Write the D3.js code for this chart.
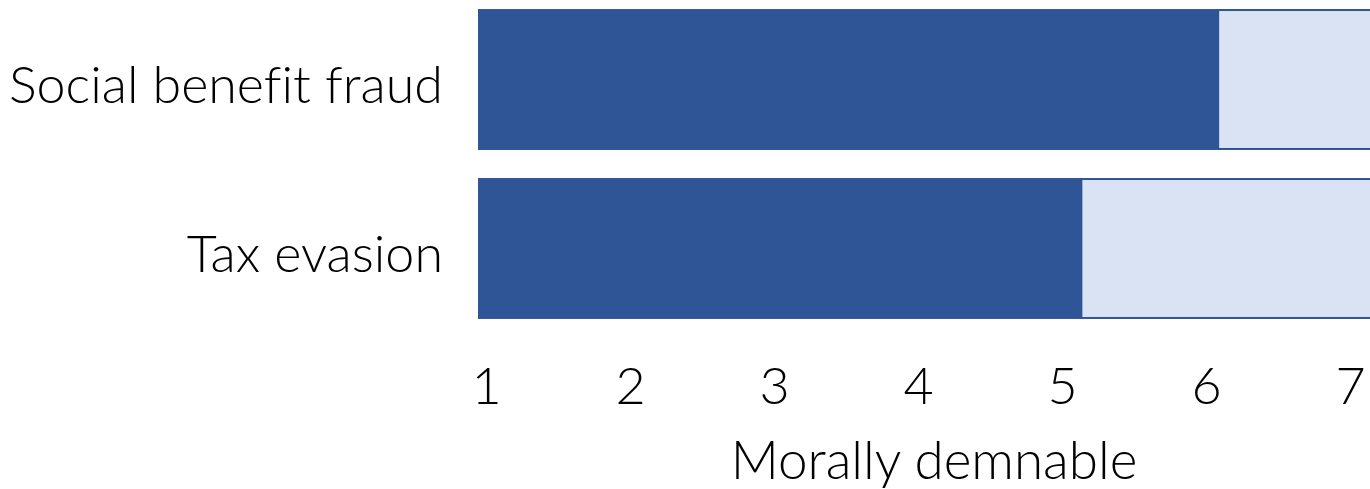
<!DOCTYPE html>
<html><head><meta charset="utf-8">
<script src="https://cdn.jsdelivr.net/npm/d3@7"></script>
<style>
html,body{margin:0;padding:0;background:#fff;overflow:hidden}
text{font-family:Lato,"Open Sans",sans-serif;font-weight:300;fill:#000;font-variant-ligatures:none;font-feature-settings:"liga" 0}
</style></head><body>
<svg id="c" width="1370" height="489"></svg>
<script>
const categories = ["Social benefit fraud", "Tax evasion"];
const values = [6.14, 5.19];
const scaleMax = [7.25, 7.25];
const ticks = [1, 2, 3, 4, 5, 6, 7];
const axisTitle = "Morally demnable";

const svg = d3.select("#c");
const x = d3.scaleLinear().domain([1, 7]).range([478, 1342]);
const y = d3.scaleBand().domain(categories).range([-5, 333]).paddingInner(0.166).paddingOuter(0.083);

const g = svg.append("g");
// background (light) bars
g.selectAll("rect.bg").data(categories).join("rect")
  .attr("class","bg")
  .attr("x", (d,i) => x(values[i]))
  .attr("y", d => y(d) + 1)
  .attr("width", (d,i) => x(scaleMax[i]) - x(values[i]))
  .attr("height", y.bandwidth() - 2)
  .attr("fill", "#DAE3F3")
  .attr("stroke", "#2F5597")
  .attr("stroke-width", 2);
// value bars
g.selectAll("rect.val").data(categories).join("rect")
  .attr("class","val")
  .attr("x", x(1))
  .attr("y", d => y(d))
  .attr("width", (d,i) => x(values[i]) - x(1))
  .attr("height", y.bandwidth())
  .attr("fill", "#2F5597");

// category labels
g.selectAll("text.cat").data(categories).join("text")
  .attr("class","cat")
  .attr("x", 443)
  .attr("y", d => y(d) + y.bandwidth()/2 + 23)
  .attr("text-anchor","end")
  .style("font-size","52px")
  .text(d => d);

// x axis tick labels
const axis = d3.axisBottom(x).tickValues(ticks).tickSize(0).tickPadding(0).tickFormat(d3.format("d"));
const ax = svg.append("g").attr("transform","translate(8,404)").call(axis);
ax.select(".domain").remove();
ax.selectAll("text").attr("dy", null).attr("y", 0).style("font-size","52px").style("font-family","Lato, 'Open Sans', sans-serif").style("font-weight","300").attr("fill","#000");

svg.append("text")
  .attr("x", 934).attr("y", 479)
  .attr("text-anchor","middle")
  .style("font-size","53px")
  .text(axisTitle);
</script>
</body></html>
